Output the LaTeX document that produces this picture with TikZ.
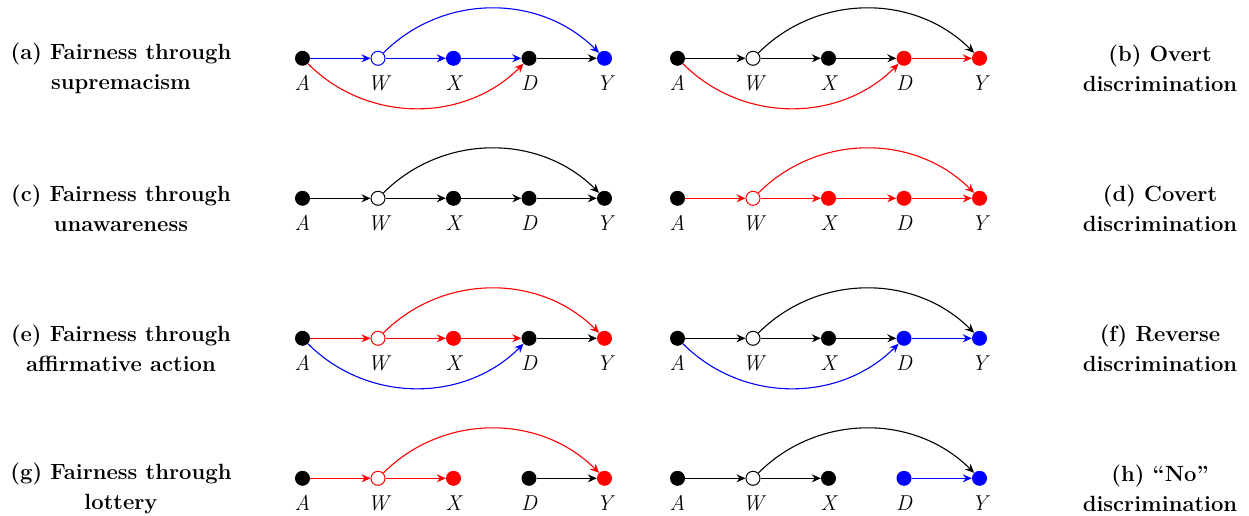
\documentclass[tikz,border=0pt]{standalone}
\usepackage{fontspec}
\usetikzlibrary{arrows.meta}
\tikzset{
  dot/.style={circle, minimum size=15pt, inner sep=0pt, fill=#1, draw=none},
  hollow/.style={circle, minimum size=14pt, inner sep=0pt, fill=white, draw=#1, line width=1pt},
  vlbl/.style={font=\fontsize{21.5}{21.5}\selectfont\itshape, inner sep=0pt},
  captxt/.style={font=\fontsize{22}{30}\selectfont\bfseries, align=center, inner sep=0pt},
  link/.style={draw=#1, line width=1.1pt, -{Stealth[length=9pt,width=8pt,inset=3pt]}},
  arcup/.style={link=#1, out=45, in=135},
  arcdown/.style={link=#1, out=-45, in=-135},
}
% #1 prefix, #2 x0, #3 y, #4 A fill, #5 W draw, #6 X fill, #7 D fill, #8 Y fill
\newcommand\panelrow[8]{%
  \node[dot=#4] (#1A) at (#2,#3) {};
  \node[hollow=#5] (#1W) at (#2+75.5,#3) {};
  \node[dot=#6] (#1X) at (#2+151,#3) {};
  \node[dot=#7] (#1D) at (#2+226.5,#3) {};
  \node[dot=#8] (#1Y) at (#2+302,#3) {};
  \node[vlbl] (#1Al) at (#2,#3+25) {A};
  \node[vlbl] (#1Wl) at (#2+75.5,#3+25) {W};
  \node[vlbl] (#1Xl) at (#2+151,#3+25) {X};
  \node[vlbl] (#1Dl) at (#2+226.5,#3+25) {D};
  \node[vlbl] (#1Yl) at (#2+302,#3+25) {Y};
}
\begin{document}
\begin{tikzpicture}[x=1pt,y=-1pt]
\useasboundingbox (0,0) rectangle (1249,516);

% (a)
\node[captxt] (capa) at (121,68.5) {(a) Fairness through\\supremacism};
\panelrow{a}{302.5}{58.3}{black}{blue}{blue}{black}{blue}
\draw[link=blue] (aA) -- (aW);
\draw[link=blue] (aW) -- (aX);
\draw[link=blue] (aX) -- (aD);
\draw[link=black] (aD) -- (aY);
\draw[arcup=blue] (aW) to (aY);
\draw[arcdown=red] (aA) to (aD);

% (b)
\node[captxt] (capb) at (1160,68.5) {(b) Overt\\discrimination};
\panelrow{b}{677.5}{58.3}{black}{black}{black}{red}{red}
\draw[link=black] (bA) -- (bW);
\draw[link=black] (bW) -- (bX);
\draw[link=black] (bX) -- (bD);
\draw[link=red] (bD) -- (bY);
\draw[arcup=black] (bW) to (bY);
\draw[arcdown=red] (bA) to (bD);

% (c)
\node[captxt] (capc) at (121,208.5) {(c) Fairness through\\unawareness};
\panelrow{c}{302.5}{198.3}{black}{black}{black}{black}{black}
\draw[link=black] (cA) -- (cW);
\draw[link=black] (cW) -- (cX);
\draw[link=black] (cX) -- (cD);
\draw[link=black] (cD) -- (cY);
\draw[arcup=black] (cW) to (cY);

% (d)
\node[captxt] (capd) at (1160,208.5) {(d) Covert\\discrimination};
\panelrow{d}{677.5}{198.3}{black}{red}{red}{red}{red}
\draw[link=red] (dA) -- (dW);
\draw[link=red] (dW) -- (dX);
\draw[link=red] (dX) -- (dD);
\draw[link=red] (dD) -- (dY);
\draw[arcup=red] (dW) to (dY);

% (e)
\node[captxt] (cape) at (121,348.5) {(e) Fairness through\\affirmative action};
\panelrow{e}{302.5}{338.3}{black}{red}{red}{black}{red}
\draw[link=red] (eA) -- (eW);
\draw[link=red] (eW) -- (eX);
\draw[link=red] (eX) -- (eD);
\draw[link=black] (eD) -- (eY);
\draw[arcup=red] (eW) to (eY);
\draw[arcdown=blue] (eA) to (eD);

% (f)
\node[captxt] (capf) at (1160,348.5) {(f) Reverse\\discrimination};
\panelrow{f}{677.5}{338.3}{black}{black}{black}{blue}{blue}
\draw[link=black] (fA) -- (fW);
\draw[link=black] (fW) -- (fX);
\draw[link=black] (fX) -- (fD);
\draw[link=blue] (fD) -- (fY);
\draw[arcup=black] (fW) to (fY);
\draw[arcdown=blue] (fA) to (fD);

% (g)
\node[captxt] (capg) at (121,488.5) {(g) Fairness through\\lottery};
\panelrow{g}{302.5}{478.3}{black}{red}{red}{black}{red}
\draw[link=red] (gA) -- (gW);
\draw[link=red] (gW) -- (gX);
\draw[link=black] (gD) -- (gY);
\draw[arcup=red] (gW) to (gY);

% (h)
\node[captxt] (caph) at (1160,488.5) {(h) ``No''\\discrimination};
\panelrow{h}{677.5}{478.3}{black}{black}{black}{blue}{blue}
\draw[link=black] (hA) -- (hW);
\draw[link=black] (hW) -- (hX);
\draw[link=blue] (hD) -- (hY);
\draw[arcup=black] (hW) to (hY);
\end{tikzpicture}
\end{document}
